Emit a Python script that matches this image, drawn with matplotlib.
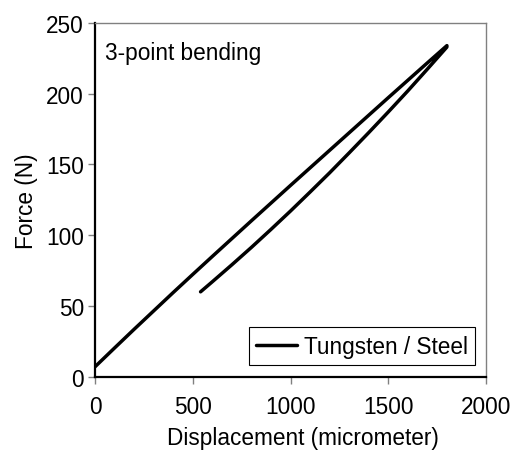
import matplotlib
matplotlib.use("Agg")
import matplotlib.pyplot as plt

plt.rcParams['font.family'] = ['Liberation Sans', 'DejaVu Sans']

# Loading branch (displacement in micrometer, force in N)
load_x = [0, 100, 200, 300, 400, 500, 600, 700, 800, 900, 1000, 1100, 1200,
          1300, 1400, 1500, 1600, 1700, 1800]
load_f = [7, 20.3, 33.5, 46.5, 59.5, 72.3, 85, 97.6, 110.2, 122.7, 135.2, 147.6,
          160, 172.4, 184.8, 197.2, 209.5, 221.8, 234]
# Unloading branch
unload_x = [1800, 1700, 1600, 1500, 1400, 1300, 1200, 1100, 1000, 900, 800,
            700, 600, 540]
unload_f = [233, 217.4, 202.0, 187.1, 172.5, 158.2, 144.1, 130.5, 117.1, 104.1,
            91.4, 79.1, 67.1, 60]

series_label = "Tungsten / Steel"
annotation = "3-point bending"
x_ticks = [0, 500, 1000, 1500, 2000]
y_ticks = [0, 50, 100, 150, 200, 250]

fig = plt.figure(figsize=(5.13, 4.52), dpi=100)
ax = fig.add_axes([95/513, 1-377.7/452, (486-95)/513, (377.7-24)/452])

xs = load_x + unload_x
fs = load_f + unload_f
ax.plot(xs, fs, color='black', lw=2.5, solid_capstyle='round',
        solid_joinstyle='round', label=series_label)

ax.set_xlim(0, 2000)
ax.set_ylim(0, 250)
ax.set_xticks(x_ticks)
ax.set_yticks(y_ticks)

fs_txt = 16.3
ax.tick_params(axis='both', direction='out', length=5, width=1, color='#808080',
               labelsize=fs_txt, labelcolor='black')
ax.tick_params(axis='x', pad=8)
ax.tick_params(axis='y', pad=3)

for s in ['left', 'bottom']:
    ax.spines[s].set_color('black')
    ax.spines[s].set_linewidth(1.6)
for s in ['top', 'right']:
    ax.spines[s].set_color('#808080')
    ax.spines[s].set_linewidth(1.0)

ax.set_xlabel("Displacement (micrometer)", fontsize=fs_txt)
ax.xaxis.set_label_coords((303 - 95) / 391, -(439 - 377.7) / 353.7)
ax.xaxis.label.set_va('center')
ax.set_ylabel("Force (N)", fontsize=fs_txt, labelpad=6)

ax.text(0.026, 0.95, annotation, transform=ax.transAxes, fontsize=fs_txt,
        ha='left', va='top')

leg = ax.legend(loc='lower right', bbox_to_anchor=(0.972, 0.033),
                borderaxespad=0, fontsize=fs_txt, fancybox=False,
                framealpha=1, edgecolor='black', handlelength=1.8,
                handletextpad=0.28, borderpad=0.33)
leg.get_frame().set_linewidth(0.8)

fig.savefig("out.png", dpi=100)
